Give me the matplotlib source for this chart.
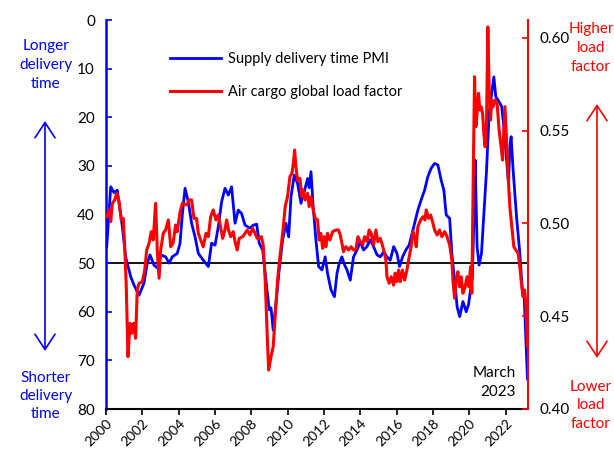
import numpy as np
import matplotlib
matplotlib.use("Agg")
from matplotlib import pyplot as plt

plt.rcParams['font.family'] = ['Lato', 'DejaVu Sans']

# supply delivery time PMI (left axis, inverted)
pmi_year = [2000.04, 2000.26, 2000.44, 2000.62, 2000.90, 2001.08, 2001.36, 2001.54, 2001.82, 2002.09,
            2002.27, 2002.42, 2002.64, 2002.82, 2003.01, 2003.28, 2003.47, 2003.65, 2003.92, 2004.07,
            2004.20, 2004.35, 2004.53, 2004.71, 2004.90, 2005.08, 2005.35, 2005.63, 2005.81, 2006.00,
            2006.18, 2006.36, 2006.55, 2006.73, 2006.91, 2007.10, 2007.28, 2007.46, 2007.65, 2007.92,
            2008.10, 2008.29, 2008.43, 2008.62, 2008.80, 2008.98, 2009.08, 2009.20, 2009.35, 2009.53,
            2009.72, 2009.90, 2010.05, 2010.18, 2010.36, 2010.54, 2010.73, 2010.91, 2011.09, 2011.18,
            2011.28, 2011.40, 2011.55, 2011.70, 2011.88, 2012.06, 2012.19, 2012.38, 2012.57, 2012.71,
            2012.83, 2012.98, 2013.13, 2013.26, 2013.44, 2013.62, 2013.81, 2013.99, 2014.17, 2014.36,
            2014.54, 2014.72, 2014.91, 2015.09, 2015.28, 2015.46, 2015.64, 2015.83, 2016.01, 2016.15,
            2016.32, 2016.50, 2016.68, 2016.89, 2017.16, 2017.34, 2017.53, 2017.71, 2017.89, 2018.08,
            2018.26, 2018.44, 2018.59, 2018.72, 2018.91, 2019.03, 2019.18, 2019.32, 2019.46, 2019.64,
            2019.82, 2019.95, 2020.08, 2020.16, 2020.24, 2020.31, 2020.42, 2020.53, 2020.66, 2020.75,
            2020.94, 2021.08, 2021.22, 2021.34, 2021.45, 2021.58, 2021.77, 2021.91, 2022.04, 2022.15,
            2022.22, 2022.29, 2022.40, 2022.59, 2022.77, 2022.92, 2023.01, 2023.10, 2023.19]
pmi = [46.6, 34.3, 35.5, 35.0, 42.5, 48.7, 52.8, 54.5, 56.6, 54.1,
       50.0, 48.3, 50.4, 51.0, 48.3, 48.7, 50.0, 48.7, 48.0, 46.0,
       40.0, 34.6, 37.4, 41.8, 44.6, 48.0, 49.4, 50.7, 45.9, 46.3,
       42.5, 37.4, 34.6, 36.0, 34.3, 41.8, 39.1, 39.8, 42.2, 42.8,
       42.2, 42.0, 45.9, 47.3, 53.5, 59.6, 59.2, 63.8, 58.3, 51.4,
       45.2, 41.8, 44.6, 36.3, 31.9, 33.6, 37.7, 35.3, 32.6, 34.5,
       31.2, 38.4, 45.2, 50.7, 51.4, 48.7, 52.1, 55.5, 56.9, 52.1,
       50.1, 48.7, 50.4, 51.4, 53.5, 48.7, 47.3, 45.6, 47.3, 46.6,
       45.2, 46.6, 48.3, 48.7, 47.7, 48.7, 49.4, 46.6, 48.0, 50.7,
       48.7, 47.3, 46.3, 43.2, 39.1, 37.0, 35.0, 32.2, 30.5, 29.5,
       29.8, 32.9, 35.0, 40.1, 40.8, 48.0, 53.5, 59.0, 61.0, 57.9,
       60.0, 58.5, 55.0, 52.8, 41.1, 28.8, 46.6, 50.4, 48.0, 42.5,
       30.8, 19.2, 15.1, 11.7, 15.8, 16.5, 17.8, 22.6, 28.8, 33.6,
       26.1, 24.0, 30.8, 40.5, 48.0, 56.2, 56.9, 65.1, 73.8]

# air cargo global load factor (right axis)
lf_year = [2000.04, 2000.17, 2000.26, 2000.35, 2000.48, 2000.59, 2000.72, 2000.84, 2000.95, 2001.02,
           2001.11, 2001.21, 2001.32, 2001.41, 2001.51, 2001.63, 2001.72, 2001.82, 2002.00, 2002.13,
           2002.24, 2002.37, 2002.49, 2002.60, 2002.73, 2002.82, 2002.92, 2003.01, 2003.15, 2003.28,
           2003.43, 2003.56, 2003.69, 2003.83, 2003.92, 2004.07, 2004.20, 2004.44, 2004.58, 2004.71,
           2004.84, 2004.98, 2005.08, 2005.21, 2005.35, 2005.50, 2005.63, 2005.76, 2005.90, 2006.05,
           2006.18, 2006.30, 2006.42, 2006.54, 2006.64, 2006.74, 2006.86, 2007.00, 2007.10, 2007.22,
           2007.33, 2007.52, 2007.65, 2007.77, 2007.92, 2008.07, 2008.20, 2008.32, 2008.43, 2008.55,
           2008.65, 2008.76, 2008.86, 2008.95, 2009.08, 2009.20, 2009.31, 2009.44, 2009.57, 2009.72,
           2009.86, 2009.99, 2010.12, 2010.23, 2010.32, 2010.38, 2010.45, 2010.54, 2010.67, 2010.78,
           2010.85, 2010.96, 2011.09, 2011.18, 2011.28, 2011.40, 2011.51, 2011.64, 2011.73, 2011.82,
           2011.92, 2012.01, 2012.10, 2012.19, 2012.32, 2012.47, 2012.65, 2012.79, 2012.89, 2012.98,
           2013.07, 2013.20, 2013.35, 2013.49, 2013.62, 2013.75, 2013.86, 2013.99, 2014.12, 2014.23,
           2014.36, 2014.48, 2014.59, 2014.72, 2014.85, 2014.96, 2015.09, 2015.18, 2015.28, 2015.40,
           2015.46, 2015.58, 2015.69, 2015.82, 2015.91, 2016.00, 2016.10, 2016.19, 2016.31, 2016.43,
           2016.56, 2016.65, 2016.79, 2016.89, 2016.98, 2017.07, 2017.16, 2017.31, 2017.44, 2017.55,
           2017.62, 2017.75, 2017.86, 2017.99, 2018.08, 2018.22, 2018.35, 2018.48, 2018.63, 2018.77,
           2018.91, 2019.03, 2019.09, 2019.18, 2019.27, 2019.36, 2019.46, 2019.54, 2019.64, 2019.76,
           2019.87, 2019.97, 2020.06, 2020.13, 2020.20, 2020.28, 2020.35, 2020.42, 2020.50, 2020.57,
           2020.64, 2020.72, 2020.79, 2020.86, 2020.94, 2021.01, 2021.08, 2021.16, 2021.23, 2021.30,
           2021.41, 2021.52, 2021.63, 2021.74, 2021.82, 2021.89, 2021.95, 2022.04, 2022.13, 2022.22,
           2022.33, 2022.44, 2022.55, 2022.68, 2022.77, 2022.86, 2022.95, 2023.03, 2023.10, 2023.15,
           2023.19]
lf = [0.5037, 0.5073, 0.5010, 0.5109, 0.5127, 0.5163, 0.5118, 0.5019, 0.5028, 0.4893,
      0.4678, 0.4282, 0.4462, 0.4408, 0.4462, 0.4381, 0.4642, 0.4678, 0.4686, 0.4749,
      0.4857, 0.4893, 0.4956, 0.4911, 0.5109, 0.4857, 0.4705, 0.4857, 0.4947, 0.4965,
      0.5019, 0.4875, 0.4893, 0.4992, 0.4956, 0.5060, 0.5109, 0.5100, 0.5127, 0.5127,
      0.5028, 0.5028, 0.4947, 0.4911, 0.4875, 0.4947, 0.4929, 0.5037, 0.5073, 0.5019,
      0.5046, 0.4983, 0.4920, 0.4965, 0.5019, 0.4965, 0.4929, 0.4956, 0.4902, 0.4857,
      0.4920, 0.4929, 0.4947, 0.4965, 0.4938, 0.4974, 0.4947, 0.4920, 0.4920, 0.4929,
      0.4884, 0.4695, 0.4426, 0.4210, 0.4282, 0.4336, 0.4498, 0.4695, 0.4821, 0.4947,
      0.5091, 0.5145, 0.5252, 0.5270, 0.5333, 0.5396, 0.5306, 0.5235, 0.5243, 0.5145,
      0.5181, 0.5127, 0.5163, 0.5091, 0.5145, 0.5073, 0.5028, 0.5019, 0.4911, 0.4947,
      0.4866, 0.4929, 0.4875, 0.4947, 0.4911, 0.4956, 0.4965, 0.4965, 0.4938, 0.4893,
      0.4848, 0.4875, 0.4857, 0.4875, 0.4857, 0.4860, 0.4929, 0.4902, 0.4884, 0.4929,
      0.4902, 0.4965, 0.4947, 0.4884, 0.4965, 0.4902, 0.4920, 0.4893, 0.4857, 0.4803,
      0.4713, 0.4678, 0.4713, 0.4668, 0.4732, 0.4686, 0.4749, 0.4686, 0.4749, 0.4695,
      0.4749, 0.4803, 0.4875, 0.4956, 0.4929, 0.4875, 0.4983, 0.5019, 0.5037, 0.5019,
      0.5073, 0.5028, 0.5046, 0.5001, 0.4965, 0.4938, 0.4965, 0.4929, 0.4956, 0.4929,
      0.4884, 0.4803, 0.4695, 0.4597, 0.4695, 0.4740, 0.4659, 0.4713, 0.4624, 0.4659,
      0.4713, 0.4659, 0.4767, 0.4624, 0.5198, 0.5791, 0.5522, 0.5594, 0.5702, 0.5612,
      0.5630, 0.5594, 0.5486, 0.5414, 0.5558, 0.6060, 0.5737, 0.5558, 0.5666, 0.5630,
      0.5666, 0.5648, 0.5504, 0.5414, 0.5342, 0.5504, 0.5630, 0.5450, 0.5252, 0.5091,
      0.4983, 0.4875, 0.4857, 0.4839, 0.4767, 0.4678, 0.4605, 0.4642, 0.4570, 0.4440,
      0.4340]

year_ticks = list(range(2000, 2023, 2))
pmi_ticks = [0, 10, 20, 30, 40, 50, 60, 70, 80]
lf_ticks = [0.40, 0.45, 0.50, 0.55, 0.60]

fig = plt.figure(figsize=(6.14, 4.5), dpi=100)
ax = fig.add_axes([106/614, 1-409/450, (528-106)/614, (409-20)/450])
ax2 = ax.twinx()

ax.axhline(50, color='black', lw=1.3, zorder=1)
l1, = ax.plot(pmi_year, pmi, color='#0000FF', lw=2.0, zorder=2, label='Supply delivery time PMI')
l2, = ax2.plot(lf_year, lf, color='#FF0000', lw=2.2, zorder=3, label='Air cargo global load factor')

ax.set_xlim(2000, 2023.22)
ax.set_ylim(80, 0)
ax2.set_ylim(0.40, 0.6097)
ax.set_xticks(year_ticks)
ax.set_xticklabels([str(y) for y in year_ticks], rotation=45, ha='right', rotation_mode='anchor')
ax.set_yticks(pmi_ticks)
ax2.set_yticks(lf_ticks)
ax2.set_yticklabels(['%.2f' % v for v in lf_ticks])

ax.spines['top'].set_visible(False)
ax2.spines['top'].set_visible(False)
ax.spines['right'].set_visible(False)
ax2.spines['left'].set_visible(False)
ax2.spines['bottom'].set_visible(False)
ax.spines['left'].set_color('#0000FF')
ax.spines['left'].set_linewidth(1.8)
ax2.spines['right'].set_color('#FF0000')
ax2.spines['right'].set_linewidth(1.5)
ax.spines['bottom'].set_linewidth(1.5)

ax.tick_params(axis='y', direction='in', color='#0000FF', width=1.2, length=4, labelsize=11, pad=8)
ax.tick_params(axis='x', direction='out', width=1.2, length=4, labelsize=10, pad=2)
ax2.tick_params(axis='y', direction='in', color='#FF0000', width=1.2, length=4, labelsize=11, pad=8)

ax.legend([l1, l2], [l1.get_label(), l2.get_label()], loc='upper left',
          bbox_to_anchor=(170/614, 1-52/450), bbox_transform=fig.transFigure,
          frameon=False, fontsize=10.5, labelspacing=1.3, handlelength=3.5,
          handletextpad=0.5, borderpad=0, borderaxespad=0)

def ftext(x, y, s, **kw):
    fig.text(x/614, 1-y/450, s, va='center', **kw)

for yy, s in zip([46, 65, 84], ['Longer', 'delivery', 'time']):
    ftext(46, yy, s, ha='center', color='#0000FF', fontsize=11)
for yy, s in zip([378, 396, 414], ['Shorter', 'delivery', 'time']):
    ftext(46, yy, s, ha='center', color='#0000FF', fontsize=11)
for yy, s in zip([29, 48, 67], ['Higher', 'load', 'factor']):
    ftext(591, yy, s, ha='center', color='#FF0000', fontsize=11)
for yy, s in zip([387, 405, 424], ['Lower', 'load', 'factor']):
    ftext(591, yy, s, ha='center', color='#FF0000', fontsize=11)
ftext(516, 373, 'March', ha='right', color='black', fontsize=11)
ftext(516, 392, '2023', ha='right', color='black', fontsize=11)

arrow = dict(arrowstyle='<->,head_length=0.55,head_width=0.36', lw=1.2, mutation_scale=20, shrinkA=0, shrinkB=0)
ax.annotate('', xy=(45/614, 1-121/450), xytext=(45/614, 1-351/450), xycoords='figure fraction',
            textcoords='figure fraction', arrowprops=dict(arrow, color='#0000FF'), annotation_clip=False)
ax.annotate('', xy=(597/614, 1-104/450), xytext=(597/614, 1-358/450), xycoords='figure fraction',
            textcoords='figure fraction', arrowprops=dict(arrow, color='#FF0000'), annotation_clip=False)

fig.savefig('out.png', dpi=100)
